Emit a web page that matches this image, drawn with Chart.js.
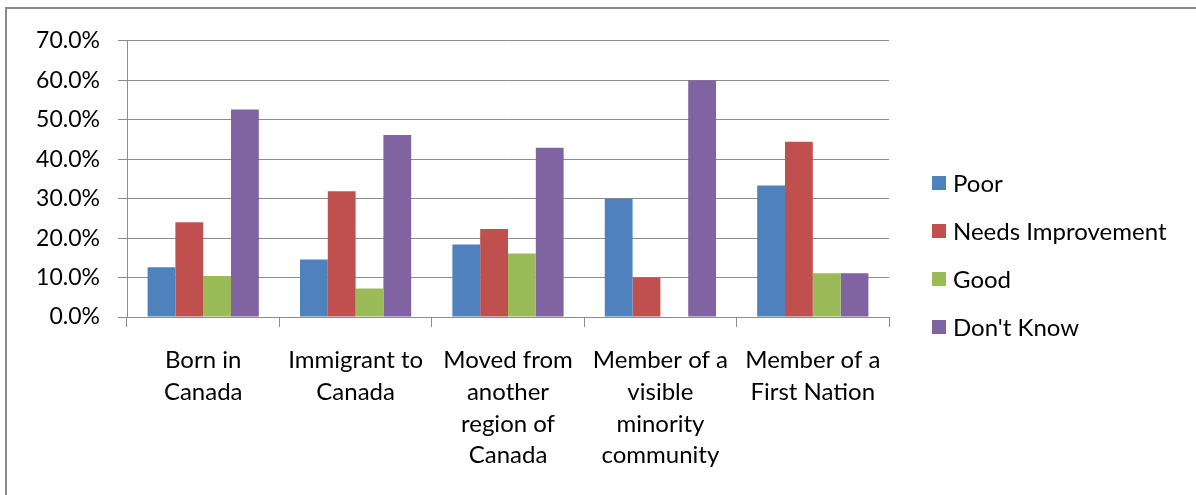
<!DOCTYPE html>
<html lang="en">
<head>
  <meta charset="UTF-8">
  <title>Rating by origin</title>
  <script src="https://cdn.jsdelivr.net/npm/chart.js"></script>
  <style>
    html, body { margin: 0; padding: 0; background: #fff; overflow: hidden; }
    #frame {
      position: absolute; left: 5px; top: 7px;
      width: 1189px; height: 486px;
      border-top: 2px solid #8a8a8a; border-left: 2px solid #8a8a8a;
    }
  </style>
</head>
<body>
  <div id="frame"><canvas id="chart" width="1189" height="486"></canvas></div>

  <script>
    // categories and series (percent)
    const categories = [
      ['Born in', 'Canada'],
      ['Immigrant to', 'Canada'],
      ['Moved from', 'another', 'region of', 'Canada'],
      ['Member of a', 'visible', 'minority', 'community'],
      ['Member of a', 'First Nation']
    ];
    const poor = [12.6, 14.6, 18.4, 30.0, 33.3];
    const needsImprovement = [24.0, 31.9, 22.3, 10.0, 44.4];
    const good = [10.4, 7.2, 16.1, 0, 11.1];
    const dontKnow = [52.6, 46.1, 42.9, 60.0, 11.1];
    const yTicks = ['0.0%', '10.0%', '20.0%', '30.0%', '40.0%', '50.0%', '60.0%', '70.0%'];

    const font = 'Lato';
    const gridColor = '#8c8c8c';

    // legend to the right of the plot, Excel style (box + label, wide spacing)
    const sideLegend = {
      id: 'sideLegend',
      afterDraw(chart) {
        const ctx = chart.ctx;
        const x = chart.chartArea.right + 43;
        ctx.save();
        ctx.font = '24px ' + font;
        ctx.textBaseline = 'middle';
        chart.data.datasets.forEach((ds, i) => {
          const y = 174 + i * 48;
          ctx.fillStyle = ds.backgroundColor;
          ctx.fillRect(x, y - 7, 14, 14);
          ctx.fillStyle = '#000';
          ctx.fillText(ds.label, x + 21, y + 1);
        });
        ctx.restore();
      }
    };

    new Chart(document.getElementById('chart'), {
      type: 'bar',
      data: {
        labels: categories,
        datasets: [
          { label: 'Poor', data: poor, backgroundColor: '#4F81BD' },
          { label: 'Needs Improvement', data: needsImprovement, backgroundColor: '#C0504D' },
          { label: 'Good', data: good, backgroundColor: '#9BBB59' },
          { label: "Don't Know", data: dontKnow, backgroundColor: '#8064A2' }
        ]
      },
      plugins: [sideLegend],
      options: {
        responsive: false,
        animation: false,
        categoryPercentage: 0.73,
        barPercentage: 1.0,
        layout: { padding: { top: 29, bottom: 0, left: 0, right: 307 } },
        plugins: {
          tooltip: { enabled: false },
          legend: { display: false }
        },
        scales: {
          x: {
            grid: { display: true, drawOnChartArea: false, drawTicks: true, tickLength: 10, color: gridColor, offset: true },
            border: { color: gridColor },
            ticks: { color: '#000', padding: 17, maxRotation: 0, autoSkip: false, font: { family: font, size: 24, lineHeight: 1.33 } },
            afterFit: s => { s.height = 178; }
          },
          y: {
            min: 0, max: 70,
            ticks: {
              stepSize: 10, color: '#000', padding: 18,
              font: { family: font, size: 23 },
              callback: (v, i) => yTicks[i]
            },
            grid: { color: gridColor, tickLength: 9 },
            border: { color: gridColor },
            afterFit: s => { s.width = 120; }
          }
        }
      }
    });
  </script>
</body>
</html>
